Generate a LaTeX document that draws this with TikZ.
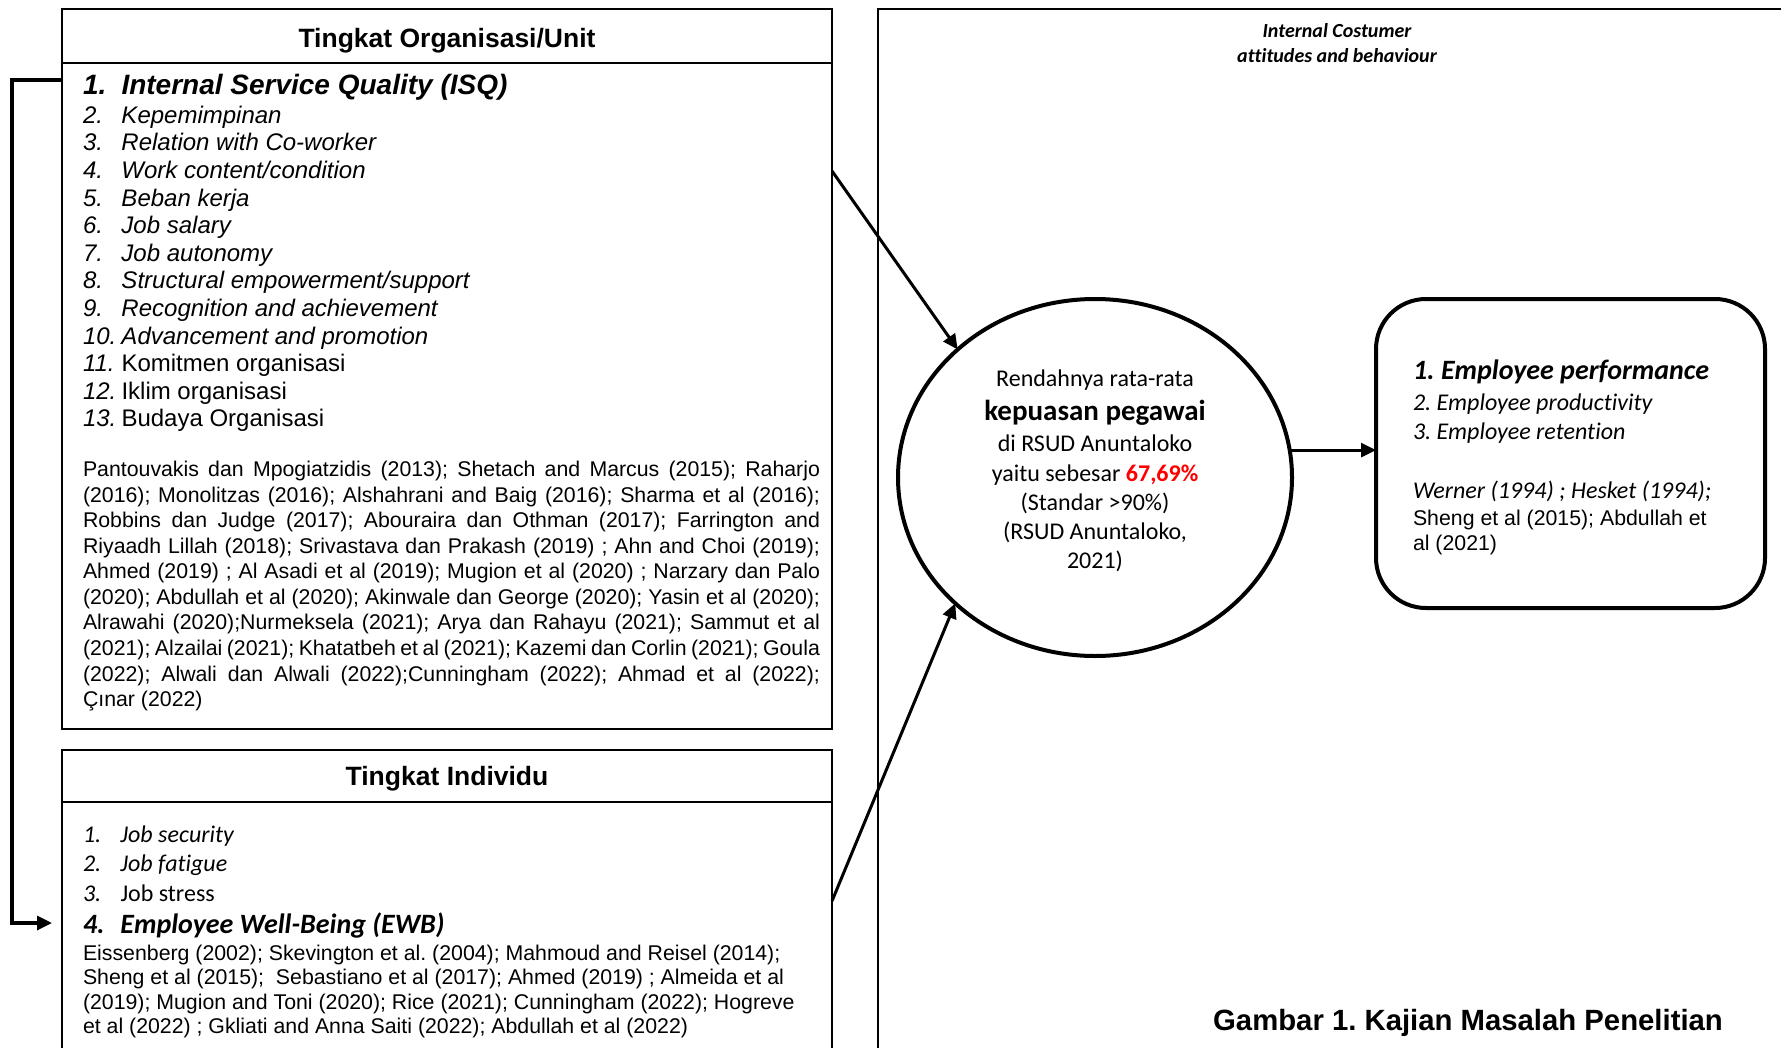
\documentclass[tikz,border=0pt]{standalone}
\usepackage{fontspec}
\setmainfont{Liberation Sans}
\newfontfamily\calfont[Ligatures=NoCommon]{Carlito}
\usetikzlibrary{arrows.meta,shapes.geometric}
\definecolor{pctred}{RGB}{255,0,0}
\newcommand\numbox[2]{\makebox[#1][l]{#2}}
\newcommand\fs[1]{\fontsize{#1}{#1}\selectfont}
\frenchspacing
\begin{document}
\begin{tikzpicture}[x=0.5pt,y=-0.5pt,
  every node/.style={inner sep=0pt,outer sep=0pt},
  boxframe/.style={draw,line width=1pt,rectangle,anchor=north west},
  arrtip/.style={-{Triangle[length=7.5pt,width=7pt]}},
  arr/.style={line width=1.5pt,arrtip},
  lt/.style={anchor=base west},
  ct/.style={anchor=base},
  refs/.style={lt,font=\fs{10.65}},
  isqit/.style={lt,font=\fs{12}\itshape},
  isqup/.style={lt,font=\fs{12}},
  calc/.style={ct,font=\calfont\fs{12}}]
\useasboundingbox (0,0) rectangle (1781,1048);
\fill[white] (0,0) rectangle (1781,1048);
\begin{scope}
\clip (0,0) rectangle (1781,1048);
\node[boxframe,line width=0.9pt,minimum width=461pt,minimum height=540pt] (bigrect) at (878,9) {};
\node[boxframe,minimum width=385pt,minimum height=360pt] (isqbox) at (62,9) {};
\node[boxframe,minimum width=385pt,minimum height=27.25pt] (isqhead) at (62,9) {};
\node[boxframe,minimum width=385pt,minimum height=170pt] (ewbbox) at (62,750) {};
\node[boxframe,minimum width=385pt,minimum height=26pt] (ewbhead) at (62,750) {};
\end{scope}
% ellipse and outcome box
\node[draw,ellipse,line width=2pt,minimum width=197pt,minimum height=178.5pt] (circ) at (1095,477.5) {};
\node[draw,line width=2pt,rounded corners=25pt,minimum width=194.5pt,minimum height=154.5pt,anchor=north west] (outbox) at (1376,299) {};
% connectors
\coordinate (tA) at (832,171);
\coordinate (bA) at (832,901);
\draw[arr] (tA) -- (circ.137.6);
\draw[arr] (bA) -- (circ.222.6);
\draw[arr] (circ.8.5) -- (circ.8.5 -| outbox.west);
\coordinate (lA) at (62,80);
\coordinate (lB) at (52,923);
\draw[line width=1.65pt,arrtip] (lA) -- ++(-50,0) |- (lB);
% ISQ box text
\node[ct,font=\fs{13.25}\bfseries] (isqtitle) at (447,47.5) {Tingkat Organisasi/Unit};
\node[lt,font=\fs{14}\bfseries\itshape] (isq1) at (83,95) {\numbox{19.25pt}{1.}Internal Service Quality (ISQ)};
\node[isqit] (isq2) at (83,123.3) {\numbox{19.25pt}{2.}Kepemimpinan};
\node[isqit] (isq3) at (83,150.9) {\numbox{19.25pt}{3.}Relation with Co-worker};
\node[isqit] (isq4) at (83,178.5) {\numbox{19.25pt}{4.}Work content/condition};
\node[isqit] (isq5) at (83,206.1) {\numbox{19.25pt}{5.}Beban kerja};
\node[isqit] (isq6) at (83,233.7) {\numbox{19.25pt}{6.}Job salary};
\node[isqit] (isq7) at (83,261.3) {\numbox{19.25pt}{7.}Job autonomy};
\node[isqit] (isq8) at (83,288.9) {\numbox{19.25pt}{8.}Structural empowerment/support};
\node[isqit] (isq9) at (83,316.5) {\numbox{19.25pt}{9.}Recognition and achievement};
\node[isqit] (isq10) at (83,344.1) {\numbox{19.25pt}{10.}Advancement and promotion};
\node[isqup] (isq11) at (83,371.7) {\numbox{19.25pt}{\itshape 11.}Komitmen organisasi};
\node[isqup] (isq12) at (83,399.3) {\numbox{19.25pt}{\itshape 12.}Iklim organisasi};
\node[isqup] (isq13) at (83,426.9) {\numbox{19.25pt}{\itshape 13.}Budaya Organisasi};
\foreach \ln [count=\k from 0] in {
  {Pantouvakis dan Mpogiatzidis (2013); Shetach and Marcus (2015); Raharjo},
  {(2016); Monolitzas (2016); Alshahrani and Baig (2016); Sharma et al (2016);},
  {Robbins dan Judge (2017); Abouraira dan Othman (2017); Farrington and},
  {Riyaadh Lillah (2018); Srivastava dan Prakash (2019) ; Ahn and Choi (2019);},
  {Ahmed (2019) ; Al Asadi et al (2019); Mugion et al (2020) ; Narzary dan Palo},
  {(2020); Abdullah et al (2020); Akinwale dan George (2020); Yasin et al (2020);},
  {Alrawahi (2020);Nurmeksela (2021); Arya dan Rahayu (2021); Sammut et al},
  {(2021); Alzailai (2021); Khatatbeh et al (2021); Kazemi dan Corlin (2021); Goula},
  {(2022); Alwali dan Alwali (2022);Cunningham (2022); Ahmad et al (2022);}}
  \node[refs] (isqref\k) at (83,476.6+25.56*\k) {\makebox[368.5pt][s]{\ln}};
\node[refs] (isqref9) at (83,706.6) {Çınar (2022)};
% Individu box text
\node[ct,font=\fs{13.25}\bfseries] (ewbtitle) at (447,785.5) {Tingkat Individu};
\node[lt,font=\calfont\fs{12}\itshape] (ewb1) at (83,842) {\numbox{18.75pt}{1.}Job security};
\node[lt,font=\calfont\fs{12}\itshape] (ewb2) at (83,871.5) {\numbox{18.75pt}{2.}Job fatigue};
\node[lt,font=\calfont\fs{12}] (ewb3) at (83,901) {\numbox{18.75pt}{\itshape 3.}Job stress};
\node[lt,font=\calfont\fs{14}\bfseries\itshape] (ewb4) at (83,933) {\numbox{18.75pt}{4.}Employee Well-Being (EWB)};
\node[refs] (ewbref1) at (83,960) {Eissenberg (2002); Skevington et al. (2004); Mahmoud and Reisel (2014);};
\node[refs] (ewbref2) at (83,984.5) {Sheng et al (2015);\ \ Sebastiano et al (2017); Ahmed (2019) ; Almeida et al};
\node[refs] (ewbref3) at (83,1009) {(2019); Mugion and Toni (2020); Rice (2021); Cunningham (2022); Hogreve};
\node[refs] (ewbref4) at (83,1033.5) {et al (2022) ; Gkliati and Anna Saiti (2022); Abdullah et al (2022)};
% ellipse text
\node[calc] (c1) at (1095,386) {Rendahnya rata-rata};
\node[ct,font=\calfont\fs{14.5}\bfseries] (c2) at (1095,420) {kepuasan pegawai};
\node[calc] (c3) at (1095,451.5) {di RSUD Anuntaloko};
\node[calc] (c4) at (1095,481) {yaitu sebesar {\bfseries\color{pctred}67,69\%}};
\node[calc] (c5) at (1095,510) {(Standar >90\%)};
\node[calc] (c6) at (1095,539) {(RSUD Anuntaloko,};
\node[calc] (c7) at (1095,568) {2021)};
% outcome box text
\node[lt,font=\calfont\fs{14}\bfseries\itshape] (o1) at (1413,379) {1. Employee performance};
\node[lt,font=\calfont\fs{12}\itshape] (o2) at (1413,410) {2. Employee productivity};
\node[lt,font=\calfont\fs{12}\itshape] (o3) at (1413,439) {3. Employee retention};
\node[lt,font=\calfont\fs{12}\itshape] (o4) at (1413,498) {Werner (1994) ; Hesket (1994);};
\node[refs] (o5) at (1413,525) {Sheng et al (2015); Abdullah et};
\node[refs] (o6) at (1413,550) {al (2021)};
% top label and caption
\node[ct,font=\calfont\fs{10}\bfseries\itshape] (icb1) at (1337,37.3) {Internal Costumer};
\node[ct,font=\calfont\fs{10}\bfseries\itshape] (icb2) at (1337,62.7) {attitudes and behaviour};
\node[ct,font=\fs{14.65}\bfseries] (cap) at (1468,1030) {Gambar 1. Kajian Masalah Penelitian};
\end{tikzpicture}
\end{document}
